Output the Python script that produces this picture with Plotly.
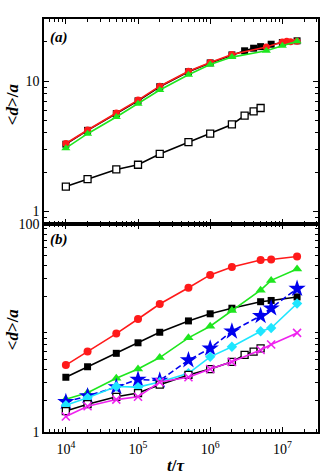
import numpy as np
import plotly.graph_objects as go

# ---------- Panel (a) data ----------
a_open_t = [1e4, 2e4, 5e4, 1e5, 2e5, 5e5, 1e6, 2e6, 3e6, 4e6, 5e6]
a_open_d = [1.55, 1.77, 2.10, 2.28, 2.76, 3.40, 3.95, 4.65, 5.44, 5.86, 6.22]

a_black_t = [1e4, 2e4, 5e4, 1e5, 2e5, 5e5, 1e6, 2e6, 3e6, 4e6, 5e6, 7e6, 1e7, 1.6e7]
a_black_d = [3.28, 4.19, 5.63, 7.06, 9.06, 11.8, 13.8, 15.9, 17.1, 17.9, 18.4, 19.2, 19.8, 20.4]

a_red_t = [1e4, 2e4, 5e4, 1e5, 2e5, 5e5, 1e6, 2e6, 6e6, 1e7, 1.15e7, 1.3e7, 1.6e7]
a_red_d = [3.32, 4.22, 5.70, 7.15, 9.15, 11.9, 13.9, 16.0, 18.3, 20.0, 20.2, 20.1, 20.2]

a_green_t = [1e4, 2e4, 5e4, 1e5, 2e5, 5e5, 1e6, 2e6, 6e6, 1e7, 1.6e7]
a_green_d = [3.06, 3.95, 5.31, 6.70, 8.55, 11.2, 13.4, 15.3, 17.1, 18.7, 20.2]

# ---------- Panel (b) data ----------
b_t = [1e4, 2e4, 5e4, 1e5, 2e5, 5e5, 1e6, 2e6, 5e6, 7e6, 1.6e7]
b_red_d = [4.40, 5.93, 8.84, 12.2, 17.0, 24.4, 32.4, 38.6, 45.0, 45.6, 48.7]
b_black_d = [3.36, 4.24, 5.71, 7.21, 9.10, 11.7, 13.7, 15.5, 17.9, 18.4, 19.9]
b_green_d = [2.07, 2.39, 3.29, 4.03, 5.20, 8.04, 10.4, 14.7, 23.1, 28.7, 37.0]
b_blue_d = [1.95, 2.22, 2.71, 3.20, 3.13, 4.91, 6.37, 9.30, 13.1, 15.5, 23.9]
b_cyan_d = [1.81, 2.13, 2.74, 2.70, 3.02, 3.67, 5.28, 6.61, 9.30, 10.0, 17.2]
b_magenta_d = [1.41, 1.77, 2.05, 2.18, 3.02, 3.36, 4.03, 4.73, 6.15, 6.95, 8.97]
b_open_t = [1e4, 2e4, 5e4, 1e5, 2e5, 5e5, 1e6, 2e6, 3e6, 4e6, 5e6]
b_open_d = [1.59, 1.85, 2.18, 2.37, 2.85, 3.54, 4.03, 4.73, 5.51, 5.93, 6.37]

x_major = [1e4, 1e5, 1e6, 1e7]
x_labels = ["10<sup>4</sup>", "10<sup>5</sup>", "10<sup>6</sup>", "10<sup>7</sup>"]

RED = "#ff1a1a"
GREEN = "#1ee61e"
BLUE = "#0000ee"
CYAN = "#1ee6ff"
MAGENTA = "#ee22ee"
LW = 1.6

fig = go.Figure()


def add(x, y, color, symbol, size, xa, ya, dash="solid", fill=None, mline=None):
    fig.add_trace(go.Scatter(
        x=x, y=y, mode="lines+markers", xaxis=xa, yaxis=ya,
        line=dict(color=color, width=LW, dash=dash),
        marker=dict(symbol=symbol, size=size, color=fill or color,
                    line=dict(color=mline or color, width=1.3 if mline else 0)),
        showlegend=False))


# panel (a)
add(a_black_t, a_black_d, "black", "square", 7, "x", "y")
add(a_red_t, a_red_d, RED, "circle", 7, "x", "y")
add(a_green_t, a_green_d, GREEN, "triangle-up", 8, "x", "y")
add(a_open_t, a_open_d, "black", "square", 7, "x", "y", fill="white", mline="black")

# panel (b)
add(b_t, b_red_d, RED, "circle", 8, "x2", "y2")
add(b_t, b_black_d, "black", "square", 7, "x2", "y2")
add(b_t, b_green_d, GREEN, "triangle-up", 9, "x2", "y2")
add(b_t, b_blue_d, BLUE, "star", 13, "x2", "y2", dash="6px,3px")
add(b_t, b_cyan_d, CYAN, "diamond", 8, "x2", "y2")
add(b_open_t, b_open_d, "black", "square", 7, "x2", "y2", fill="white", mline="black")
fig.add_trace(go.Scatter(
    x=b_t, y=b_magenta_d, mode="lines+markers", xaxis="x2", yaxis="y2",
    line=dict(color=MAGENTA, width=LW),
    marker=dict(symbol="x-thin", size=8, color=MAGENTA, line=dict(color=MAGENTA, width=1.6)),
    showlegend=False))

x_minor = [m * 10 ** e for e in range(3, 8) for m in range(2, 10)]
y_minor = [m * 10 ** e for e in range(-1, 2) for m in range(2, 10)]

font_tick = dict(family="Liberation Serif, Times New Roman, serif", size=14, color="black")

common_x = dict(type="log", range=[np.log10(4980), np.log10(3.12e7)],
                showline=True, linecolor="black", linewidth=1.5, mirror="allticks",
                ticks="inside", ticklen=5, tickwidth=1.2, tickcolor="black",
                tickmode="array", tickvals=x_major, ticktext=x_labels,
                minor=dict(tickmode="array", tickvals=x_minor, ticks="inside",
                           ticklen=3, tickwidth=1, tickcolor="black", showgrid=False),
                showgrid=False, zeroline=False, tickfont=font_tick)
common_y = dict(type="log", showline=True, linecolor="black", linewidth=1.5,
                mirror="allticks", ticks="inside", ticklen=5, tickwidth=1.2,
                tickcolor="black",
                minor=dict(tickmode="array", tickvals=y_minor, ticks="inside",
                           ticklen=3, tickwidth=1, tickcolor="black", showgrid=False),
                showgrid=False, zeroline=False, tickfont=font_tick)

split = 0.5036
fig.update_layout(
    width=332, height=475,
    margin=dict(l=44, r=12, t=13, b=43),
    plot_bgcolor="white", paper_bgcolor="white",
    xaxis=dict(**common_x, anchor="y", domain=[0, 1], showticklabels=False),
    yaxis=dict(**common_y, anchor="x", domain=[split, 1],
               range=[np.log10(0.8), np.log10(30)],
               tickmode="array", tickvals=[1, 10], ticktext=["1", "10"]),
    xaxis2=dict(**common_x, anchor="y2", domain=[0, 1], ticklabelstandoff=3),
    yaxis2=dict(**common_y, anchor="x2", domain=[0, split],
                range=[0, 2], tickmode="array", tickvals=[1, 100],
                ticktext=["1", "100"]),
)

ttl_font = dict(family="Liberation Serif, Times New Roman, serif", size=17, color="black")
fig.add_annotation(text="<b>&lt;<i>d</i>&gt;/<i>a</i></b>", xref="paper", yref="paper",
                   x=-0.115, y=0.795, textangle=-90, showarrow=False, font=ttl_font,
                   xanchor="center", yanchor="middle")
fig.add_annotation(text="<b>&lt;<i>d</i>&gt;/<i>a</i></b>", xref="paper", yref="paper",
                   x=-0.115, y=0.25, textangle=-90, showarrow=False, font=ttl_font,
                   xanchor="center", yanchor="middle")
fig.add_annotation(text="<b><i>t</i>/<i>τ</i></b>", xref="paper", yref="paper",
                   x=0.48, y=-0.082, showarrow=False, font=ttl_font,
                   xanchor="center", yanchor="middle")
lab_font = dict(family="Liberation Serif, Times New Roman, serif", size=15, color="black")
fig.add_annotation(text="<b><i>(a)</i></b>", xref="paper", yref="paper",
                   x=0.015, y=0.955, showarrow=False, font=lab_font,
                   xanchor="left", yanchor="middle")
fig.add_annotation(text="<b><i>(b)</i></b>", xref="paper", yref="paper",
                   x=0.015, y=0.465, showarrow=False, font=lab_font,
                   xanchor="left", yanchor="middle")

fig.write_html("out.html", config={"displayModeBar": False},
               post_script="document.body.style.margin='0px';document.body.style.padding='0px';")
